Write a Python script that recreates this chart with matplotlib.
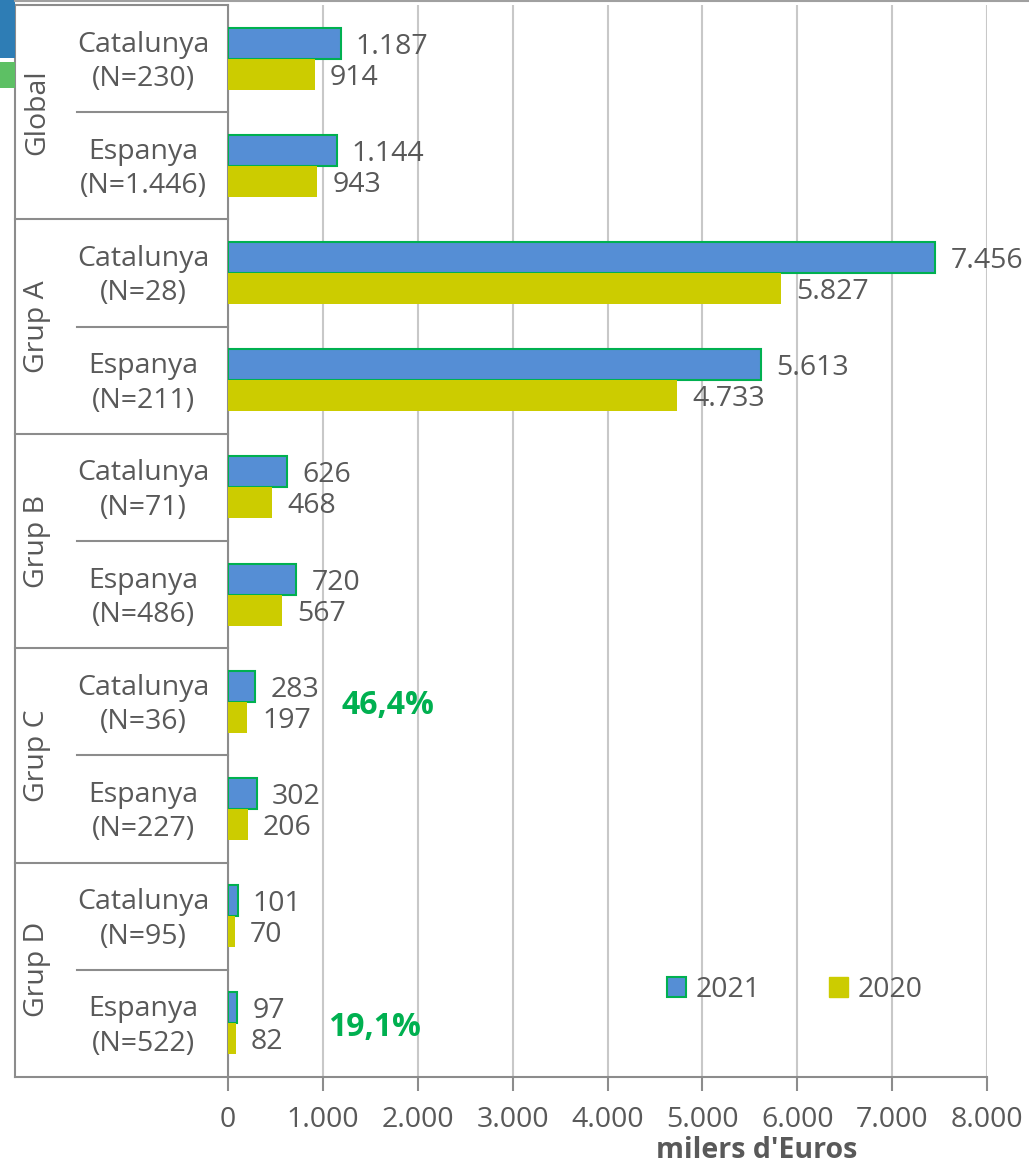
import matplotlib
matplotlib.use("Agg")
import matplotlib.pyplot as plt
from matplotlib.patches import Patch, Rectangle
from matplotlib.lines import Line2D
import matplotlib.transforms as mtransforms

plt.rcParams['font.family'] = ['Open Sans', 'DejaVu Sans']

groups = ["Global", "Grup A", "Grup B", "Grup C", "Grup D"]
categories = ["Catalunya\n(N=230)", "Espanya\n(N=1.446)",
              "Catalunya\n(N=28)", "Espanya\n(N=211)",
              "Catalunya\n(N=71)", "Espanya\n(N=486)",
              "Catalunya\n(N=36)", "Espanya\n(N=227)",
              "Catalunya\n(N=95)", "Espanya\n(N=522)"]
v2021 = [1187, 1144, 7456, 5613, 626, 720, 283, 302, 101, 97]
v2020 = [914, 943, 5827, 4733, 468, 567, 197, 206, 70, 82]
series_names = ["2021", "2020"]
annotations = [("46,4%", 6), ("19,1%", 9)]
annot_x = [1200, 1050]
xticks = [0, 1000, 2000, 3000, 4000, 5000, 6000, 7000, 8000]
xlabel = "milers d'Euros"

BLUE = "#558ED5"
EDGE = "#00B050"
YEL = "#CCCC00"
TXT = "#595959"
AX = "#8C8C8C"
GRID = "#C8C8C8"

W, H = 1029, 1165
fig = plt.figure(figsize=(W/100, H/100), dpi=100)
left_px, right_px, top_px, bot_px = 228, 987, 5, 1077
ax = fig.add_axes([left_px/W, 1-bot_px/H, (right_px-left_px)/W, (bot_px-top_px)/H])

n = len(categories)
ys = list(range(n))
bh = 0.29
ax.barh([y - bh/2 for y in ys], v2021, height=bh, color=BLUE, edgecolor=EDGE, linewidth=1.5, zorder=3)
ax.barh([y + bh/2 for y in ys], v2020, height=bh, color=YEL, edgecolor=YEL, linewidth=0, zorder=3)

def fmt(v):
    return f"{v:,}".replace(",", ".")

fs = 20.5
for y, v in zip(ys, v2021):
    ax.annotate(fmt(v), xy=(v, y - bh/2), xytext=(11, 0), textcoords='offset points',
                va='center_baseline', ha='left', fontsize=fs, color=TXT)
for y, v in zip(ys, v2020):
    ax.annotate(fmt(v), xy=(v, y + bh/2), xytext=(11, 0), textcoords='offset points',
                va='center_baseline', ha='left', fontsize=fs, color=TXT)

for (txt, yi), xv in zip(annotations, annot_x):
    ax.text(xv, yi, txt, fontsize=23, fontweight='bold', color=EDGE, va='center_baseline', ha='left')

ax.set_xlim(0, 8000)
ax.set_ylim(n - 0.5, -0.5)
ax.set_xticks(xticks)
ax.set_xticklabels([fmt(t) for t in xticks], fontsize=fs, color=TXT)
ax.tick_params(axis='x', length=10, width=1.5, color=AX, pad=11, direction='out')
ax.set_yticks([])
ax.grid(axis='x', color=GRID, linewidth=1.5, zorder=0)
for s in ['top', 'right']:
    ax.spines[s].set_visible(False)
ax.spines['left'].set_color(AX)
ax.spines['left'].set_linewidth(1.5)
ax.spines['bottom'].set_color(AX)
ax.spines['bottom'].set_linewidth(1.5)

ax.text((757-left_px)/(right_px-left_px), -(1150-bot_px)/(bot_px-top_px), xlabel,
        transform=ax.transAxes, ha='center', va='center', fontsize=fs, fontweight='bold', color=TXT)

# category table on the left
tr = mtransforms.blended_transform_factory(ax.transAxes, ax.transData)
xo = (15-left_px)/(right_px-left_px)
xi = (77-left_px)/(right_px-left_px)
for b in range(n + 1):
    yb = b - 0.5
    x0 = xo if b % 2 == 0 else xi
    ax.add_line(Line2D([x0, 0], [yb, yb], transform=tr, color=AX, linewidth=1.5, clip_on=False))
ax.add_line(Line2D([xo, xo], [-0.5, n - 0.5], transform=tr, color=AX, linewidth=1.5, clip_on=False))
xc = (143-left_px)/(right_px-left_px)
for y, c in zip(ys, categories):
    ax.text(xc, y + 0.03, c, transform=tr, ha='center', va='center', fontsize=fs, color=TXT,
            linespacing=1.3)
xg = (37-left_px)/(right_px-left_px)
for gi, g in enumerate(groups):
    ax.text(xg, 2*gi + 0.5, g, transform=tr, ha='center', va='center', rotation=90,
            fontsize=fs, color=TXT)

# legend
handles = [Patch(facecolor=BLUE, edgecolor=EDGE, linewidth=1.5, label=series_names[0]),
           Patch(facecolor=YEL, edgecolor=YEL, label=series_names[1])]
leg = ax.legend(handles=handles, ncol=2, frameon=False, fontsize=fs,
                loc='center', bbox_to_anchor=((795-left_px)/(right_px-left_px), (bot_px-990)/(bot_px-top_px)),
                handlelength=0.65, handleheight=0.65, handletextpad=0.35, columnspacing=2.4)
for t in leg.get_texts():
    t.set_color(TXT)

# top border line and decoration
fig.add_artist(Line2D([15/W, 1], [1-1/H, 1-1/H], color="#A0A0A0", linewidth=1.5))
fig.add_artist(Rectangle((0, 1-58/H), 15/W, 58/H, transform=fig.transFigure, color="#2E7DB5", linewidth=0))
fig.add_artist(Rectangle((0, 1-88/H), 15/W, 26/H, transform=fig.transFigure, color="#5DC064", linewidth=0))

fig.savefig("out.png", dpi=100)
